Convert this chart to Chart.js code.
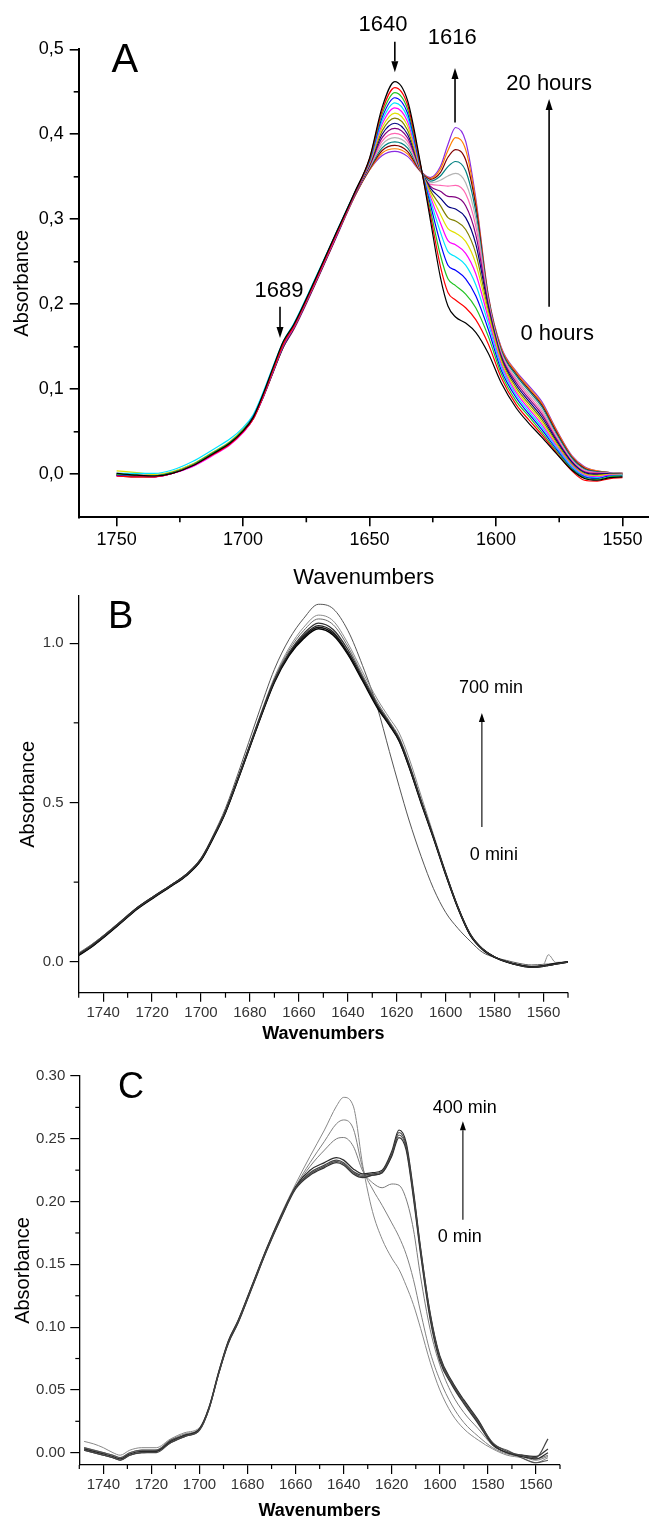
<!DOCTYPE html>
<html>
<head>
<meta charset="utf-8">
<script src="https://cdn.jsdelivr.net/npm/chart.js@4.4.1/dist/chart.umd.min.js"></script>
<style>
  html, body { margin: 0; padding: 0; background: #fff; }
  body { width: 649px; height: 1524px; position: relative; overflow: hidden; }
  canvas { position: absolute; left: 0; }
</style>
</head>
<body>
<canvas id="chartA" width="649" height="595" style="top:0px"></canvas>
<canvas id="chartB" width="649" height="500" style="top:560px"></canvas>
<canvas id="chartC" width="649" height="474" style="top:1050px"></canvas>
<script>
// ---------- Panel A : 0 h -> 20 h spectra ----------
const waveA = [1750, 1742, 1735, 1728, 1720, 1712, 1705, 1700, 1696, 1692, 1688, 1684, 1680, 1672, 1664, 1656,
  1650, 1645, 1640, 1635, 1630, 1626, 1622, 1619, 1616, 1612, 1608, 1603, 1598, 1592, 1587, 1582, 1576, 1570, 1565, 1560, 1555, 1550];

const a00 = [0.001, -0.001, -0.002, 0.001, 0.010, 0.024, 0.037, 0.051, 0.067, 0.095, 0.127, 0.157, 0.176, 0.226, 0.279, 0.331, 0.372, 0.432, 0.462, 0.440, 0.368, 0.300, 0.232, 0.198, 0.185, 0.178, 0.167, 0.142, 0.108, 0.078, 0.060, 0.044, 0.024, 0.005, -0.005, -0.007, -0.004, -0.003];
const a01 = [-0.002, -0.003, -0.003, 0.001, 0.010, 0.023, 0.036, 0.050, 0.065, 0.093, 0.124, 0.154, 0.174, 0.224, 0.277, 0.330, 0.371, 0.428, 0.455, 0.435, 0.366, 0.306, 0.245, 0.214, 0.205, 0.196, 0.182, 0.153, 0.114, 0.082, 0.064, 0.047, 0.025, 0.004, -0.007, -0.008, -0.005, -0.004];
const a02 = [0.000, -0.001, -0.002, 0.002, 0.011, 0.025, 0.038, 0.052, 0.067, 0.094, 0.125, 0.155, 0.175, 0.225, 0.278, 0.330, 0.370, 0.424, 0.449, 0.430, 0.365, 0.312, 0.258, 0.230, 0.222, 0.212, 0.196, 0.162, 0.119, 0.086, 0.068, 0.050, 0.027, 0.006, -0.004, -0.006, -0.003, -0.002];
const a03 = [-0.001, -0.002, -0.002, 0.002, 0.011, 0.025, 0.038, 0.052, 0.068, 0.094, 0.125, 0.155, 0.175, 0.225, 0.278, 0.330, 0.369, 0.420, 0.443, 0.425, 0.364, 0.318, 0.272, 0.246, 0.240, 0.230, 0.210, 0.170, 0.123, 0.090, 0.071, 0.053, 0.029, 0.007, -0.003, -0.005, -0.002, -0.002];
const a04 = [0.001, 0.001, 0.001, 0.005, 0.015, 0.029, 0.042, 0.055, 0.070, 0.097, 0.128, 0.157, 0.177, 0.227, 0.279, 0.331, 0.368, 0.416, 0.437, 0.420, 0.363, 0.323, 0.285, 0.262, 0.256, 0.246, 0.223, 0.177, 0.127, 0.093, 0.074, 0.056, 0.031, 0.009, -0.002, -0.004, -0.002, -0.001];
const a05 = [-0.002, -0.002, -0.003, 0.001, 0.009, 0.022, 0.035, 0.049, 0.065, 0.092, 0.123, 0.153, 0.173, 0.223, 0.276, 0.329, 0.367, 0.412, 0.431, 0.415, 0.362, 0.327, 0.296, 0.275, 0.270, 0.260, 0.236, 0.183, 0.130, 0.096, 0.077, 0.059, 0.033, 0.010, -0.001, -0.003, -0.001, -0.001];
const a06 = [0.004, 0.002, 0.000, 0.003, 0.012, 0.026, 0.039, 0.053, 0.069, 0.095, 0.126, 0.156, 0.176, 0.226, 0.278, 0.330, 0.366, 0.408, 0.425, 0.410, 0.361, 0.331, 0.306, 0.289, 0.284, 0.274, 0.248, 0.188, 0.133, 0.099, 0.080, 0.062, 0.035, 0.011, 0.000, -0.002, 0.000, 0.000];
const a07 = [0.000, -0.001, -0.002, 0.002, 0.011, 0.024, 0.037, 0.051, 0.067, 0.093, 0.124, 0.154, 0.174, 0.224, 0.277, 0.329, 0.365, 0.404, 0.419, 0.405, 0.360, 0.334, 0.316, 0.302, 0.298, 0.288, 0.260, 0.192, 0.136, 0.102, 0.083, 0.065, 0.037, 0.012, 0.001, -0.001, 0.000, 0.000];
const a08 = [-0.001, -0.002, -0.002, 0.002, 0.011, 0.025, 0.038, 0.052, 0.068, 0.094, 0.125, 0.154, 0.174, 0.224, 0.277, 0.329, 0.364, 0.400, 0.413, 0.400, 0.360, 0.337, 0.325, 0.315, 0.312, 0.302, 0.271, 0.196, 0.138, 0.105, 0.086, 0.068, 0.039, 0.014, 0.002, 0.000, 0.001, 0.000];
const a09 = [-0.001, -0.002, -0.003, 0.001, 0.010, 0.024, 0.037, 0.051, 0.066, 0.092, 0.123, 0.152, 0.173, 0.223, 0.276, 0.328, 0.363, 0.396, 0.407, 0.396, 0.359, 0.339, 0.333, 0.327, 0.326, 0.316, 0.282, 0.199, 0.140, 0.108, 0.089, 0.071, 0.041, 0.015, 0.003, 0.001, 0.001, 0.000];
const a10 = [0.000, -0.001, -0.002, 0.002, 0.011, 0.025, 0.038, 0.052, 0.067, 0.093, 0.124, 0.153, 0.173, 0.223, 0.276, 0.328, 0.362, 0.392, 0.401, 0.392, 0.359, 0.341, 0.340, 0.339, 0.340, 0.330, 0.292, 0.202, 0.142, 0.111, 0.092, 0.074, 0.043, 0.016, 0.004, 0.002, 0.001, 0.001];
const a11 = [0.001, 0.000, -0.001, 0.003, 0.012, 0.026, 0.039, 0.053, 0.068, 0.094, 0.124, 0.153, 0.173, 0.223, 0.276, 0.328, 0.361, 0.388, 0.396, 0.388, 0.358, 0.343, 0.346, 0.351, 0.354, 0.343, 0.301, 0.204, 0.144, 0.113, 0.095, 0.077, 0.045, 0.017, 0.005, 0.002, 0.002, 0.001];
const a12 = [-0.001, -0.002, -0.002, 0.002, 0.011, 0.024, 0.037, 0.051, 0.066, 0.092, 0.122, 0.151, 0.172, 0.222, 0.275, 0.327, 0.360, 0.384, 0.391, 0.384, 0.358, 0.345, 0.351, 0.362, 0.368, 0.357, 0.309, 0.206, 0.146, 0.116, 0.098, 0.080, 0.047, 0.019, 0.006, 0.003, 0.002, 0.001];
const a13 = [-0.002, -0.003, -0.003, 0.001, 0.010, 0.023, 0.036, 0.050, 0.065, 0.091, 0.121, 0.150, 0.171, 0.221, 0.274, 0.327, 0.359, 0.381, 0.387, 0.380, 0.357, 0.347, 0.355, 0.373, 0.382, 0.370, 0.316, 0.207, 0.147, 0.118, 0.100, 0.082, 0.049, 0.020, 0.007, 0.003, 0.002, 0.001];
const a14 = [0.000, -0.001, -0.002, 0.002, 0.011, 0.024, 0.037, 0.051, 0.066, 0.092, 0.122, 0.151, 0.171, 0.221, 0.274, 0.326, 0.358, 0.378, 0.383, 0.377, 0.357, 0.348, 0.359, 0.381, 0.396, 0.382, 0.321, 0.209, 0.149, 0.120, 0.102, 0.084, 0.051, 0.021, 0.008, 0.004, 0.002, 0.001];
const a15 = [0.001, 0.000, -0.001, 0.002, 0.011, 0.024, 0.037, 0.050, 0.065, 0.091, 0.121, 0.150, 0.170, 0.220, 0.273, 0.326, 0.358, 0.375, 0.380, 0.374, 0.357, 0.349, 0.362, 0.388, 0.408, 0.392, 0.325, 0.210, 0.150, 0.121, 0.104, 0.086, 0.052, 0.022, 0.009, 0.004, 0.002, 0.001];

const spectraA = [a00, a01, a02, a03, a04, a05, a06, a07, a08, a09, a10, a11, a12, a13, a14, a15];
const colorsA = ['#000000', '#ff0000', '#22c322', '#0000ff', '#00e5ff', '#ff00ff', '#e0e000', '#808000',
  '#000080', '#800080', '#ff66b3', '#b4b4b4', '#008080', '#800000', '#ff8000', '#8a2be2'];
const xTicksA = [1750, 1700, 1650, 1600, 1550];
const xMinorA = [1725, 1675, 1625, 1575];
const yTicksA = [0.0, 0.1, 0.2, 0.3, 0.4, 0.5];
const yMinorA = [0.05, 0.15, 0.25, 0.35, 0.45];

// ---------- Panel B : 0 -> 700 min ----------
const waveB = [1750, 1745, 1740, 1733, 1726, 1719, 1712, 1706, 1700, 1695, 1690, 1684, 1677, 1670, 1664, 1658, 1652, 1646, 1640, 1634,
  1628, 1623, 1619, 1615, 1610, 1605, 1600, 1595, 1590, 1585, 1580, 1575, 1570, 1565, 1560, 1558, 1555, 1550];

const b0 = [0.025, 0.052, 0.082, 0.127, 0.172, 0.208, 0.243, 0.276, 0.326, 0.398, 0.482, 0.610, 0.768, 0.918, 1.012, 1.078, 1.122, 1.108, 1.040, 0.930, 0.800, 0.660, 0.550, 0.445, 0.330, 0.230, 0.155, 0.105, 0.065, 0.030, 0.014, 0.004, -0.005, -0.010, -0.008, -0.007, -0.004, 0.000];
const b1 = [0.020, 0.045, 0.075, 0.120, 0.166, 0.203, 0.238, 0.270, 0.318, 0.388, 0.470, 0.595, 0.748, 0.893, 0.985, 1.050, 1.088, 1.070, 1.000, 0.910, 0.825, 0.765, 0.718, 0.640, 0.520, 0.400, 0.282, 0.175, 0.090, 0.042, 0.016, 0.001, -0.009, -0.014, -0.008, 0.022, -0.002, 0.000];
const b2 = [0.028, 0.053, 0.082, 0.126, 0.171, 0.207, 0.243, 0.276, 0.325, 0.394, 0.475, 0.598, 0.748, 0.888, 0.978, 1.040, 1.076, 1.058, 0.990, 0.900, 0.815, 0.755, 0.705, 0.625, 0.508, 0.395, 0.280, 0.172, 0.088, 0.041, 0.016, 0.001, -0.010, -0.016, -0.014, -0.012, -0.006, -0.001];
const b3 = [0.024, 0.049, 0.079, 0.123, 0.169, 0.206, 0.241, 0.273, 0.322, 0.392, 0.472, 0.594, 0.743, 0.884, 0.970, 1.030, 1.063, 1.043, 0.980, 0.893, 0.808, 0.750, 0.700, 0.620, 0.504, 0.392, 0.277, 0.171, 0.087, 0.041, 0.015, 0.000, -0.011, -0.017, -0.014, -0.011, -0.007, -0.001];
const b4 = [0.022, 0.047, 0.077, 0.122, 0.168, 0.205, 0.240, 0.272, 0.320, 0.390, 0.470, 0.592, 0.740, 0.880, 0.965, 1.020, 1.050, 1.030, 0.968, 0.886, 0.802, 0.744, 0.694, 0.614, 0.500, 0.390, 0.275, 0.170, 0.085, 0.040, 0.015, 0.000, -0.010, -0.016, -0.013, -0.010, -0.006, 0.000];
const b5 = [0.020, 0.045, 0.075, 0.120, 0.166, 0.203, 0.238, 0.270, 0.318, 0.388, 0.468, 0.590, 0.738, 0.877, 0.961, 1.015, 1.045, 1.025, 0.965, 0.882, 0.798, 0.742, 0.692, 0.612, 0.497, 0.388, 0.273, 0.168, 0.084, 0.039, 0.014, -0.001, -0.011, -0.017, -0.014, -0.011, -0.007, -0.001];
const b6 = [0.023, 0.048, 0.078, 0.124, 0.170, 0.207, 0.242, 0.274, 0.322, 0.392, 0.472, 0.594, 0.742, 0.882, 0.967, 1.024, 1.055, 1.035, 0.972, 0.888, 0.803, 0.746, 0.697, 0.617, 0.502, 0.392, 0.278, 0.171, 0.086, 0.041, 0.015, 0.000, -0.010, -0.015, -0.012, -0.009, -0.005, 0.000];

const spectraB = [b3, b4, b5, b6, b2, b1, b0];
const colorsB = ['#333333', '#111111', '#000000', '#222222', '#6a6a6a', '#8a8a8a', '#555555'];
const widthsB = [1.3, 1.4, 1.4, 1.3, 1, 1, 1];
const xTicksB = [1740, 1720, 1700, 1680, 1660, 1640, 1620, 1600, 1580, 1560];
const xMinorB = [1750, 1730, 1710, 1690, 1670, 1650, 1630, 1610, 1590, 1570, 1550];
const yTicksB = [0.0, 0.5, 1.0];
const yMinorB = [0.25, 0.75];

// ---------- Panel C : 0 -> 400 min ----------
const waveC = [1748, 1744, 1740, 1736, 1733, 1729, 1724, 1718, 1712, 1706, 1700, 1696, 1692, 1688, 1684, 1678, 1672, 1666, 1660,
  1654, 1648, 1643, 1640, 1636, 1632, 1628, 1624, 1620, 1617, 1614, 1611, 1608, 1604, 1600, 1595, 1590, 1584, 1578, 1572, 1566, 1560, 1555];

const c1 = [0.009, 0.007, 0.004, 0.000, -0.002, 0.002, 0.004, 0.004, 0.011, 0.016, 0.020, 0.037, 0.065, 0.089, 0.105, 0.134, 0.163, 0.190, 0.214, 0.236, 0.257, 0.276, 0.283, 0.276, 0.228, 0.192, 0.170, 0.155, 0.146, 0.133, 0.118, 0.099, 0.072, 0.050, 0.031, 0.019, 0.010, 0.003, -0.002, -0.004, -0.008, -0.004];
const c2 = [0.003, 0.001, -0.001, -0.003, -0.005, -0.001, 0.001, 0.002, 0.009, 0.014, 0.019, 0.036, 0.064, 0.088, 0.104, 0.133, 0.162, 0.188, 0.212, 0.231, 0.248, 0.262, 0.265, 0.258, 0.226, 0.210, 0.197, 0.183, 0.172, 0.158, 0.138, 0.112, 0.080, 0.058, 0.038, 0.024, 0.013, 0.004, -0.001, -0.003, -0.006, -0.003];
const c3 = [0.004, 0.002, 0.000, -0.002, -0.004, 0.000, 0.002, 0.002, 0.010, 0.015, 0.019, 0.036, 0.063, 0.087, 0.103, 0.132, 0.161, 0.187, 0.211, 0.228, 0.241, 0.250, 0.251, 0.244, 0.224, 0.215, 0.211, 0.214, 0.213, 0.202, 0.178, 0.140, 0.098, 0.070, 0.047, 0.032, 0.019, 0.006, 0.000, -0.002, -0.005, -0.002];
const c4 = [0.002, 0.000, -0.002, -0.004, -0.006, -0.002, 0.000, 0.000, 0.008, 0.013, 0.018, 0.035, 0.063, 0.088, 0.104, 0.133, 0.162, 0.188, 0.211, 0.223, 0.229, 0.233, 0.231, 0.224, 0.221, 0.222, 0.224, 0.238, 0.255, 0.245, 0.207, 0.162, 0.110, 0.076, 0.056, 0.041, 0.025, 0.008, 0.001, -0.002, -0.004, 0.011];
const c5 = [0.003, 0.001, -0.001, -0.003, -0.005, -0.001, 0.001, 0.001, 0.009, 0.014, 0.019, 0.036, 0.064, 0.089, 0.105, 0.134, 0.163, 0.189, 0.212, 0.225, 0.231, 0.235, 0.233, 0.226, 0.222, 0.223, 0.225, 0.240, 0.257, 0.247, 0.209, 0.163, 0.111, 0.077, 0.057, 0.042, 0.026, 0.007, 0.000, -0.003, -0.005, 0.000];
const c6 = [0.002, 0.000, -0.002, -0.004, -0.006, -0.002, 0.000, 0.001, 0.008, 0.013, 0.018, 0.035, 0.063, 0.087, 0.103, 0.132, 0.161, 0.187, 0.210, 0.221, 0.227, 0.231, 0.229, 0.222, 0.219, 0.221, 0.223, 0.236, 0.251, 0.241, 0.203, 0.158, 0.106, 0.073, 0.054, 0.039, 0.023, 0.006, 0.000, -0.002, -0.003, 0.003];
const c7 = [0.004, 0.002, 0.000, -0.002, -0.004, 0.000, 0.002, 0.002, 0.010, 0.014, 0.019, 0.036, 0.064, 0.088, 0.104, 0.133, 0.162, 0.188, 0.211, 0.222, 0.228, 0.232, 0.230, 0.223, 0.220, 0.221, 0.223, 0.237, 0.253, 0.243, 0.205, 0.160, 0.108, 0.075, 0.055, 0.040, 0.024, 0.007, 0.002, -0.004, -0.008, -0.006];

const spectraC = [c4, c5, c6, c7, c3, c2, c1];
const colorsC = ['#444444', '#2a2a2a', '#333333', '#555555', '#7a7a7a', '#808080', '#888888'];
const widthsC = [1.2, 1.2, 1.2, 1.2, 1, 1, 1];
const xTicksC = [1740, 1720, 1700, 1680, 1660, 1640, 1620, 1600, 1580, 1560];
const xMinorC = [1750, 1730, 1710, 1690, 1670, 1650, 1630, 1610, 1590, 1570, 1550];
const yTicksC = [0.00, 0.05, 0.10, 0.15, 0.20, 0.25, 0.30];
const yMinorC = [0.025, 0.075, 0.125, 0.175, 0.225, 0.275];

const FONT = '"Liberation Sans", Arial, Helvetica, sans-serif';

// minor ticks, panel letters, labels and arrows, placed in data units
const decor = {
    id: 'decor',
    afterDraw(chart, args, opts) {
        const ctx = chart.ctx;
        const sx = chart.scales.x;
        const sy = chart.scales.y;
        ctx.save();
        ctx.strokeStyle = '#000';
        ctx.lineWidth = opts.tickWidth;
        opts.minorX.forEach(v => {
            const px = sx.getPixelForValue(v);
            ctx.beginPath();
            ctx.moveTo(px, sx.top);
            ctx.lineTo(px, sx.top + opts.minorLen);
            ctx.stroke();
        });
        opts.minorY.forEach(v => {
            const py = sy.getPixelForValue(v);
            ctx.beginPath();
            ctx.moveTo(sy.right, py);
            ctx.lineTo(sy.right - opts.minorLen, py);
            ctx.stroke();
        });

        ctx.fillStyle = '#000';
        opts.texts.forEach(t => {
            ctx.font = t.font;
            ctx.textAlign = t.align || 'center';
            ctx.textBaseline = t.base || 'middle';
            ctx.fillText(t.text, sx.getPixelForValue(t.x), sy.getPixelForValue(t.y));
        });

        ctx.lineWidth = opts.arrowWidth;
        opts.arrows.forEach(a => {
            const px = sx.getPixelForValue(a.x);
            const y0 = sy.getPixelForValue(a.from);
            const y1 = sy.getPixelForValue(a.to);
            const dir = y1 > y0 ? 1 : -1;
            ctx.beginPath();
            ctx.moveTo(px, y0);
            ctx.lineTo(px, y1 - dir * opts.headLen);
            ctx.stroke();
            ctx.beginPath();
            ctx.moveTo(px, y1);
            ctx.lineTo(px - opts.headHalf, y1 - dir * opts.headLen);
            ctx.lineTo(px + opts.headHalf, y1 - dir * opts.headLen);
            ctx.closePath();
            ctx.fill();
        });
        ctx.restore();
    }
};

function spectrumChart(canvasId, p) {
    const datasets = p.spectra.map((ys, i) => ({
        data: p.wave.map((w, j) => ({ x: w, y: ys[j] })),
        borderColor: p.colors[i],
        borderWidth: p.widths[i],
        pointRadius: 0,
        fill: false,
        cubicInterpolationMode: 'monotone'
    }));

    return new Chart(document.getElementById(canvasId), {
        type: 'line',
        data: { datasets: datasets },
        plugins: [decor],
        options: {
            responsive: false,
            animation: false,
            events: [],
            layout: { autoPadding: false, padding: p.padding },
            plugins: {
                legend: { display: false },
                tooltip: { enabled: false },
                decor: p.decor
            },
            scales: {
                x: {
                    type: 'linear',
                    reverse: true,
                    min: p.xMin,
                    max: p.xMax,
                    afterFit: (s) => { s.height = p.xHeight; },
                    afterBuildTicks: (s) => { s.ticks = p.xTicks.map(v => ({ value: v })); },
                    border: { display: true, color: '#000', width: p.axisWidth },
                    grid: { drawOnChartArea: false, drawTicks: true, tickLength: p.tickLen, color: '#000', lineWidth: p.tickWidth },
                    ticks: {
                        autoSkip: false, maxRotation: 0, padding: p.xTickPad, color: p.tickColor,
                        font: { family: FONT, size: p.tickSize },
                        callback: (v) => String(v)
                    },
                    title: {
                        display: true, text: 'Wavenumbers', color: '#000',
                        font: { family: FONT, size: p.xTitleSize, weight: p.xTitleWeight },
                        padding: { top: 0, bottom: p.xTitlePad }
                    }
                },
                y: {
                    type: 'linear',
                    min: p.yMin,
                    max: p.yMax,
                    afterFit: (s) => { s.width = p.yWidth; },
                    afterBuildTicks: (s) => { s.ticks = p.yTicks.map(v => ({ value: v })); },
                    border: { display: true, color: '#000', width: p.axisWidth },
                    grid: { drawOnChartArea: false, drawTicks: true, tickLength: p.tickLen, color: '#000', lineWidth: p.tickWidth },
                    ticks: {
                        autoSkip: false, padding: p.yTickPad, color: p.tickColor,
                        font: { family: FONT, size: p.tickSize },
                        callback: p.yFormat
                    },
                    title: {
                        display: true, text: 'Absorbance', color: '#000',
                        font: { family: FONT, size: 20 },
                        padding: { top: p.yTitlePad, bottom: 0 }
                    }
                }
            }
        }
    });
}

spectrumChart('chartA', {
    wave: waveA, spectra: spectraA, colors: colorsA, widths: spectraA.map(() => 1.2),
    padding: { top: 49.3, right: 0, bottom: 0, left: 0 },
    xMin: 1539.5, xMax: 1765, yMin: -0.0506, yMax: 0.5,
    xHeight: 77.7, yWidth: 78.7,
    xTicks: xTicksA, yTicks: yTicksA,
    axisWidth: 2, tickLen: 9, tickWidth: 1.6, tickColor: '#000', tickSize: 18,
    xTickPad: 3, yTickPad: 6,
    xTitleSize: 22, xTitleWeight: 'normal', xTitlePad: 4, yTitlePad: 10,
    yFormat: (v) => v.toFixed(1).replace('.', ','),
    decor: {
        minorX: xMinorA, minorY: yMinorA, minorLen: 5, tickWidth: 1.6,
        arrowWidth: 1.6, headLen: 11, headHalf: 3.5,
        texts: [
            { text: 'A', x: 1752, y: 0.473, font: '40px ' + FONT, align: 'left', base: 'alphabetic' },
            { text: '1640', x: 1644.7, y: 0.5286, font: '22px ' + FONT },
            { text: '1616', x: 1617.3, y: 0.513, font: '22px ' + FONT },
            { text: '20 hours', x: 1579, y: 0.459, font: '22px ' + FONT },
            { text: '0 hours', x: 1575.8, y: 0.165, font: '22px ' + FONT },
            { text: '1689', x: 1685.8, y: 0.2157, font: '22px ' + FONT }
        ],
        arrows: [
            { x: 1640, from: 0.509, to: 0.473 },
            { x: 1616.2, from: 0.414, to: 0.478 },
            { x: 1579, from: 0.197, to: 0.4416 },
            { x: 1685.4, from: 0.197, to: 0.1604 }
        ]
    }
});

spectrumChart('chartB', {
    wave: waveB, spectra: spectraB, colors: colorsB, widths: widthsB,
    padding: { top: 36, right: 81, bottom: 0, left: 0 },
    xMin: 1550, xMax: 1750, yMin: -0.097, yMax: 1.148,
    xHeight: 67.3, yWidth: 78.7,
    xTicks: xTicksB, yTicks: yTicksB,
    axisWidth: 1.3, tickLen: 9, tickWidth: 1.2, tickColor: '#333', tickSize: 15,
    xTickPad: 2, yTickPad: 6,
    xTitleSize: 18, xTitleWeight: 'bold', xTitlePad: 15, yTitlePad: 16,
    yFormat: (v) => v.toFixed(1),
    decor: {
        minorX: xMinorB, minorY: yMinorB, minorLen: 5, tickWidth: 1.2,
        arrowWidth: 1.1, headLen: 9, headHalf: 3,
        texts: [
            { text: 'B', x: 1738, y: 1.047, font: '38px ' + FONT, align: 'left', base: 'alphabetic' },
            { text: '700 min', x: 1581.5, y: 0.859, font: '18px ' + FONT },
            { text: '0 mini', x: 1580.3, y: 0.335, font: '18px ' + FONT }
        ],
        arrows: [
            { x: 1585.2, from: 0.423, to: 0.781 }
        ]
    }
});

spectrumChart('chartC', {
    wave: waveC, spectra: spectraC, colors: colorsC, widths: widthsC,
    padding: { top: 26, right: 89, bottom: 0, left: 0 },
    xMin: 1550, xMax: 1750, yMin: -0.0098, yMax: 0.30,
    xHeight: 59, yWidth: 79.3,
    xTicks: xTicksC, yTicks: yTicksC,
    axisWidth: 1.3, tickLen: 9, tickWidth: 1.2, tickColor: '#333', tickSize: 15,
    xTickPad: 2, yTickPad: 5,
    xTitleSize: 18, xTitleWeight: 'bold', xTitlePad: 2, yTitlePad: 11,
    yFormat: (v) => v.toFixed(2),
    decor: {
        minorX: xMinorC, minorY: yMinorC, minorLen: 4, tickWidth: 1.2,
        arrowWidth: 1.1, headLen: 9, headHalf: 3,
        texts: [
            { text: 'C', x: 1733.9, y: 0.2825, font: '36px ' + FONT, align: 'left', base: 'alphabetic' },
            { text: '400 min', x: 1589.6, y: 0.2745, font: '18px ' + FONT },
            { text: '0 min', x: 1591.7, y: 0.1718, font: '18px ' + FONT }
        ],
        arrows: [
            { x: 1590.4, from: 0.1856, to: 0.264 }
        ]
    }
});
</script>
</body>
</html>
